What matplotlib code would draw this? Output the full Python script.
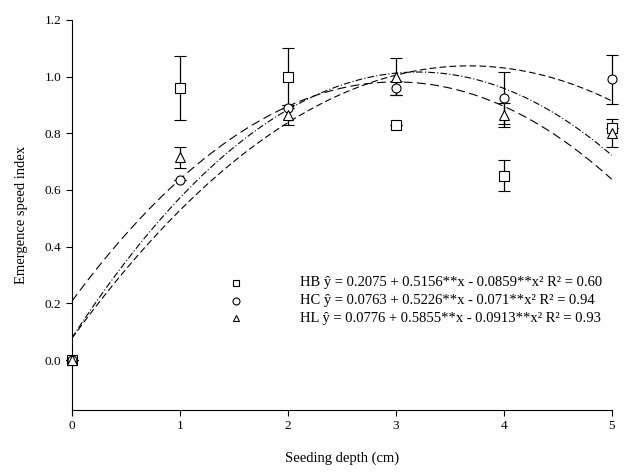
import numpy as np
import matplotlib
matplotlib.use("Agg")
import matplotlib.pyplot as plt

plt.rcParams['font.family'] = ['Liberation Serif', 'DejaVu Serif']

depth = [0, 1, 2, 3, 4, 5]

# observed means and error bars
hb = [0.0, 0.96, 1.00, 0.83, 0.65, 0.82]
hb_err = [0.0, 0.113, 0.10, 0.0, 0.055, 0.0]
hc = [0.0, 0.635, 0.89, 0.96, 0.925, 0.99]
hc_err = [0.0, 0.0, 0.0, 0.025, 0.092, 0.087]
hl = [0.0, 0.715, 0.865, 1.00, 0.865, 0.80]
hl_err = [0.0, 0.037, 0.035, 0.066, 0.042, 0.05]

# quadratic fits (b0, b1, b2)
hb_fit = [0.2075, 0.5156, -0.0859]
hc_fit = [0.0763, 0.5226, -0.071]
hl_fit = [0.0776, 0.5855, -0.0913]

labels = [
    "HB ŷ = 0.2075 + 0.5156**x - 0.0859**x² R² = 0.60",
    "HC ŷ = 0.0763 + 0.5226**x - 0.071**x² R² = 0.94",
    "HL ŷ = 0.0776 + 0.5855**x - 0.0913**x² R² = 0.93",
]

fig = plt.figure(figsize=(6.3, 4.75), dpi=100)
ax = fig.add_axes([0.114, 0.137, 0.857, 0.821])

xs = np.linspace(0, 5, 200)
styles = [(0, (8, 4)), (0, (6, 3)), (0, (6, 2, 1, 2))]
for fit, ls in zip([hb_fit, hc_fit, hl_fit], styles):
    ys = fit[0] + fit[1] * xs + fit[2] * xs ** 2
    ax.plot(xs, ys, color='black', lw=0.8, ls=ls)

markers = ['s', 'o', '^']
for y, e, m in zip([hb, hc, hl], [hb_err, hc_err, hl_err], markers):
    parts = ax.errorbar(depth, y, yerr=e, fmt=m, mfc='white', mec='black',
                        ms=6.5, mew=0.8, ecolor='black', elinewidth=0.9,
                        capsize=4, capthick=0.9, zorder=3)
    for art in parts.get_children():
        art.set_clip_on(False)

# equation legend
for i, (m, lab) in enumerate(zip(markers, labels)):
    yy = 0.272 - i * 0.062
    ax.plot([1.52], [yy], marker=m, mfc='white', mec='black', ms=5,
            mew=0.8, ls='none')
    ax.text(2.11, yy, lab, fontsize=10.5, va='center', ha='left')

ax.set_xlim(0, 5)
ax.set_ylim(-0.176, 1.2)
ax.set_xticks(depth)
ax.set_yticks([0.0, 0.2, 0.4, 0.6, 0.8, 1.0, 1.2])
ax.set_yticklabels(["0.0", "0.2", "0.4", "0.6", "0.8", "1.0", "1.2"])
ax.spines['top'].set_visible(False)
ax.spines['right'].set_visible(False)
ax.spines['left'].set_bounds(-0.176, 1.2)
ax.tick_params(labelsize=9.5, length=4, width=0.8)
ax.set_xlabel("Seeding depth (cm)", fontsize=10.5, labelpad=14)
ax.set_ylabel("Emergence speed index", fontsize=10.5, labelpad=12)

fig.savefig("out.png", dpi=100)
